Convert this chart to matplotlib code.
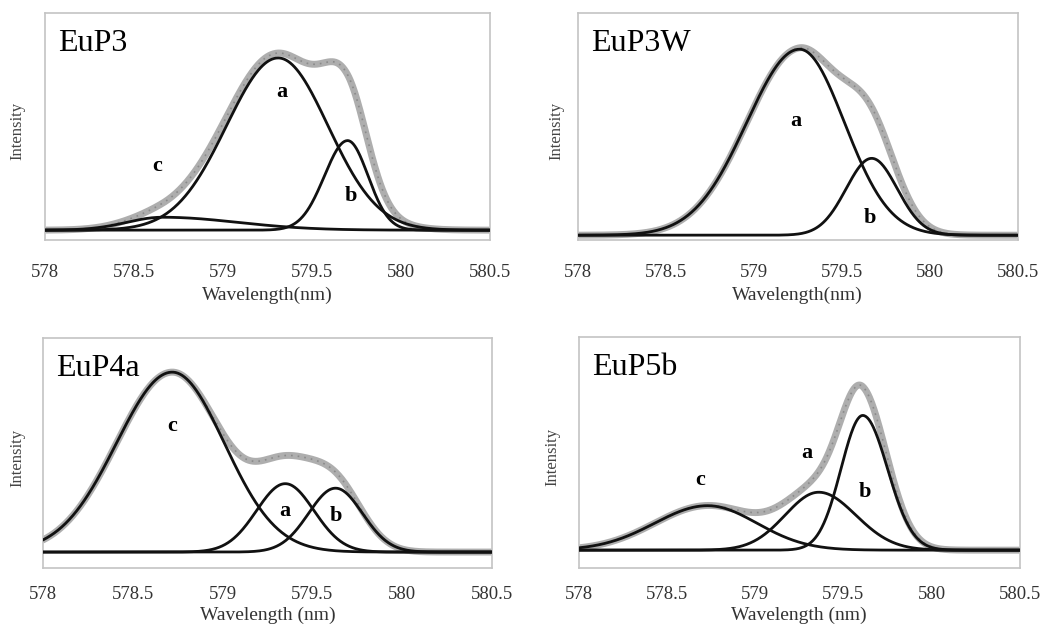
import numpy as np
import matplotlib
matplotlib.use("Agg")
from matplotlib import pyplot as plt

# Fitted components (centre nm, height, left / right width nm)
p1_names = ["a", "b", "c"]
p1_centre = [579.31, 579.70, 578.66]
p1_height = [1.00, 0.52, 0.075]
p1_sig_left = [0.29, 0.13, 0.20]
p1_sig_right = [0.28, 0.115, 0.42]

p2_names = ["a", "b"]
p2_centre = [579.26, 579.67]
p2_height = [0.98, 0.405]
p2_sig_left = [0.30, 0.145]
p2_sig_right = [0.255, 0.145]

p3_names = ["c", "a", "b"]
p3_centre = [578.72, 579.35, 579.63]
p3_height = [1.00, 0.38, 0.355]
p3_sig_left = [0.31, 0.16, 0.15]
p3_sig_right = [0.29, 0.16, 0.15]

p4_names = ["c", "a", "b"]
p4_centre = [578.73, 579.36, 579.61]
p4_height = [0.33, 0.43, 1.00]
p4_sig_left = [0.30, 0.19, 0.123]
p4_sig_right = [0.28, 0.21, 0.14]

titles = ["EuP3", "EuP3W", "EuP4a", "EuP5b"]
xlabels = ["Wavelength(nm)", "Wavelength(nm)", "Wavelength (nm)", "Wavelength (nm)"]
tick_vals = [578, 578.5, 579, 579.5, 580, 580.5]
tick_text = ["578", "578.5", "579", "579.5", "580", "580.5"]

# letter positions (wavelength, intensity)
p1_lab = [(579.33, 0.80), (579.72, 0.20), (578.63, 0.37)]
p2_lab = [(579.24, 0.60), (579.66, 0.09)]
p3_lab = [(578.72, 0.70), (579.35, 0.23), (579.63, 0.20)]
p4_lab = [(578.69, 0.52), (579.29, 0.72), (579.62, 0.43)]

ylims = [(-0.058, 1.26), (-0.026, 1.17), (-0.089, 1.19), (-0.133, 1.58)]
boxes = [[0.0432, 0.617, 0.4275, 0.362],
         [0.555, 0.617, 0.4227, 0.362],
         [0.0413, 0.094, 0.431, 0.367],
         [0.556, 0.094, 0.4236, 0.368]]
ylabel_x = [-0.045, -0.030, -0.040, -0.041]
tick_pad = [17, 17, 13, 13]
xlabel_pad = [4, 4, 2.5, 2.5]

SERIF = "Liberation Serif"


def split_peak(x, c, h, sl, sr):
    s = np.where(x < c, sl, sr)
    return h * np.exp(-(x - c) ** 2 / (2 * s ** 2))


def draw_panel(ax, i, names, centre, height, sl, sr, labels):
    x = np.linspace(578, 580.5, 600)
    comps = [split_peak(x, centre[k], height[k], sl[k], sr[k]) for k in range(len(names))]
    total = np.sum(comps, axis=0)
    ax.plot(x, total, color="#9a9a9a", lw=5, alpha=0.8, solid_capstyle="round", zorder=2)
    ax.plot(x, total, color="#8a8a8a", lw=1.2, ls=(0, (1, 3)), zorder=2)
    for comp in comps:
        ax.plot(x, comp, color="#111111", lw=2.0, zorder=3)
    for name, (lx, ly) in zip(names, labels):
        ax.text(lx, ly, name, fontsize=16, fontweight="bold", family=SERIF,
                ha="center", va="center", zorder=4)
    ax.text(0.03, 0.93, titles[i], transform=ax.transAxes, fontsize=23, family=SERIF,
            ha="left", va="top")
    ax.set_xlim(578, 580.5)
    ax.set_ylim(*ylims[i])
    ax.set_xticks(tick_vals)
    ax.set_xticklabels(tick_text, family=SERIF, fontsize=13.5, color="#333333")
    ax.set_yticks([])
    ax.tick_params(axis="x", length=0, pad=tick_pad[i])
    ax.set_xlabel(xlabels[i], family=SERIF, fontsize=14, color="#333333", labelpad=xlabel_pad[i])
    ax.set_ylabel("Intensity", family=SERIF, fontsize=12, color="#444444")
    ax.yaxis.set_label_coords(ylabel_x[i], 0.48)
    for sp in ax.spines.values():
        sp.set_color("#c4c4c4")
        sp.set_linewidth(1.2)


fig = plt.figure(figsize=(10.41, 6.27), dpi=100)
panels = [
    (p1_names, p1_centre, p1_height, p1_sig_left, p1_sig_right, p1_lab),
    (p2_names, p2_centre, p2_height, p2_sig_left, p2_sig_right, p2_lab),
    (p3_names, p3_centre, p3_height, p3_sig_left, p3_sig_right, p3_lab),
    (p4_names, p4_centre, p4_height, p4_sig_left, p4_sig_right, p4_lab),
]
for i, (nm, ce, he, sl, sr, lab) in enumerate(panels):
    ax = fig.add_axes(boxes[i])
    draw_panel(ax, i, nm, ce, he, sl, sr, lab)

fig.savefig("out.png", dpi=100)
